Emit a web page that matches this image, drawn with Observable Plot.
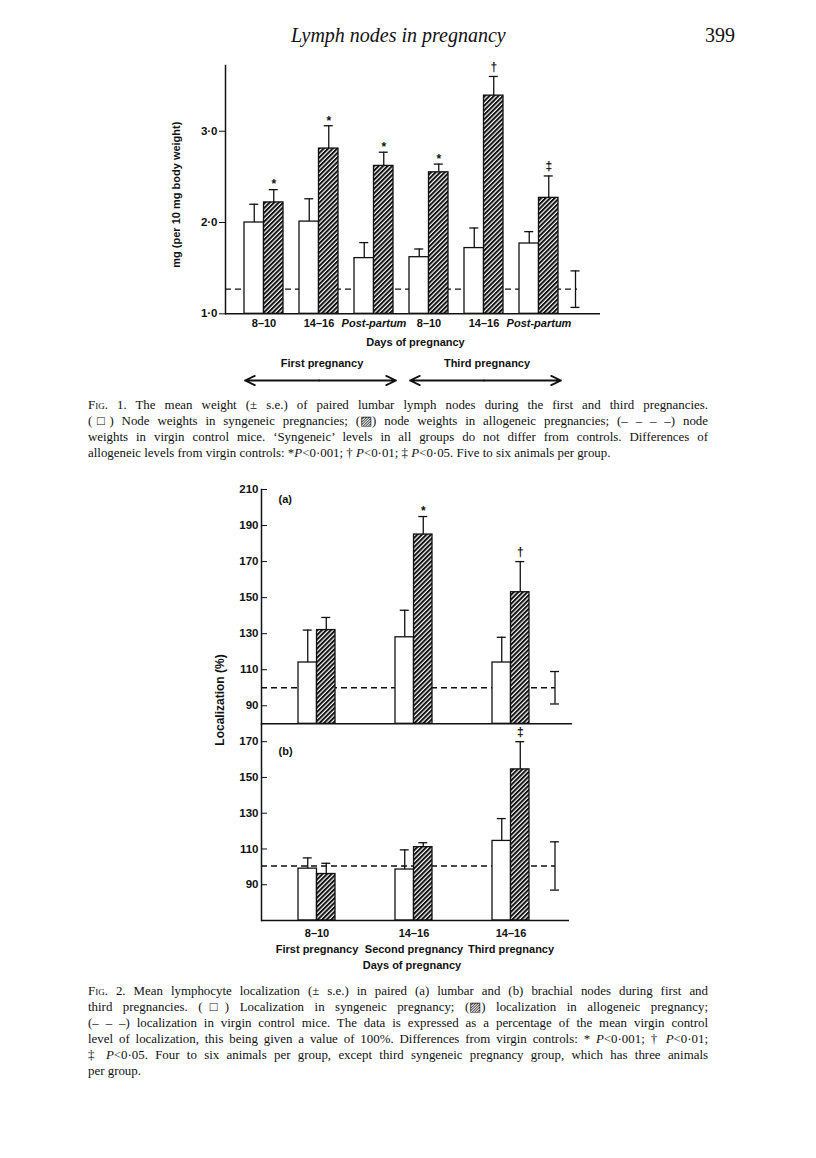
<!DOCTYPE html>
<html><head><meta charset="utf-8">
<script src="https://cdn.jsdelivr.net/npm/d3@7"></script>
<script src="https://cdn.jsdelivr.net/npm/@observablehq/plot@0.6"></script>
<style>
body{margin:0;background:#fff;}
#page{position:relative;width:816px;height:1158px;overflow:hidden;background:#fff;color:#111;font-family:"Liberation Serif","Times New Roman",serif;}
.abs{position:absolute;}
.cap{position:absolute;left:88px;width:620px;font-size:12.9px;line-height:16px;}
.cap .j{text-align:justify;text-align-last:justify;}
.sc{font-variant:small-caps;}
.ylab{position:absolute;font-family:"Liberation Sans",Arial,sans-serif;font-weight:bold;font-size:12px;white-space:nowrap;transform:translate(-50%,-50%) rotate(-90deg);}
svg.plot{overflow:visible;}
</style>
</head><body>
<div id="page">
<svg width="0" height="0" style="position:absolute">
  <defs>
    <pattern id="hatch" patternUnits="userSpaceOnUse" width="3.2" height="3.2" patternTransform="rotate(45)">
      <rect width="3.2" height="3.2" fill="#fff"/>
      <line x1="1" y1="0" x2="1" y2="3.2" stroke="#111" stroke-width="2"/>
    </pattern>
  </defs>
</svg>
<div class="abs" style="left:291px;top:24px;font-size:20px;font-style:italic;">Lymph nodes in pregnancy</div>
<div class="abs" style="left:705px;top:24px;font-size:20px;">399</div>
<div id="fig1" class="abs" style="left:0;top:50px;"></div>
<div id="fig1b" class="abs" style="left:0;top:350px;"></div>
<div class="cap" style="top:397px;">
  <div class="j"><span class="sc">Fig.</span> 1. The mean weight (± s.e.) of paired lumbar lymph nodes during the first and third pregnancies.</div>
  <div class="j">(□) Node weights in syngeneic pregnancies; (▨) node weights in allogeneic pregnancies; (– – – –) node</div>
  <div class="j">weights in virgin control mice. ‘Syngeneic’ levels in all groups do not differ from controls. Differences of</div>
  <div>allogeneic levels from virgin controls: *<i>P</i>&lt;0·001; † <i>P</i>&lt;0·01; ‡ <i>P</i>&lt;0·05. Five to six animals per group.</div>
</div>
<div id="fig2a" class="abs" style="left:0;top:480px;"></div>
<div id="fig2b" class="abs" style="left:0;top:720px;"></div>
<div class="ylab" style="left:220px;top:700px;">Localization (%)</div>
<div class="cap" style="top:983px;">
  <div class="j"><span class="sc">Fig.</span> 2. Mean lymphocyte localization (± s.e.) in paired (a) lumbar and (b) brachial nodes during first and</div>
  <div class="j">third pregnancies. (□) Localization in syngeneic pregnancy; (▨) localization in allogeneic pregnancy;</div>
  <div class="j">(– – –) localization in virgin control mice. The data is expressed as a percentage of the mean virgin control</div>
  <div class="j">level of localization, this being given a value of 100%. Differences from virgin controls: * <i>P</i>&lt;0·001; † <i>P</i>&lt;0·01;</div>
  <div class="j">‡ <i>P</i>&lt;0·05. Four to six animals per group, except third syngeneic pregnancy group, which has three animals</div>
  <div>per group.</div>
</div>
</div>
<script>
// ---------- Fig. 1 data ----------
const groups1 = ["First 8-10", "First 14-16", "First post-partum", "Third 8-10", "Third 14-16", "Third post-partum"];
const dayLabels1 = ["8–10", "14–16", "Post-partum", "8–10", "14–16", "Post-partum"];
const syngeneic1 = [2.00, 2.01, 1.61, 1.62, 1.72, 1.77];
const syngeneicSE1 = [0.20, 0.25, 0.17, 0.09, 0.22, 0.13];
const allogeneic1 = [2.22, 2.81, 2.62, 2.55, 3.39, 2.27];
const allogeneicSE1 = [0.14, 0.25, 0.15, 0.09, 0.21, 0.24];
const signif1 = ["*", "*", "*", "*", "†", "‡"];
const control1 = 1.27;
const controlSE1 = 0.20;
const yTicks1 = [1, 2, 3];
const pregnancyLabels1 = ["First pregnancy", "Third pregnancy"];

// ---------- Fig. 2 data ----------
const groups2 = ["First pregnancy", "Second pregnancy", "Third pregnancy"];
const dayLabels2 = ["8–10", "14–16", "14–16"];
// (a) lumbar nodes
const syngeneicA = [114, 128, 114];
const syngeneicSEA = [18, 15, 14];
const allogeneicA = [132, 185, 153];
const allogeneicSEA = [7, 10, 17];
const signifA = ["", "*", "†"];
const controlA = 100;
const controlSEA = 9;
const yTicksA = [90, 110, 130, 150, 170, 190, 210];
// (b) brachial nodes
const syngeneicB = [99, 98.5, 114.5];
const syngeneicSEB = [6, 11, 12.5];
const allogeneicB = [96, 111, 154.5];
const allogeneicSEB = [6, 2.5, 15.5];
const signifB = ["", "", "‡"];
const controlB = 100.5;
const controlSEB = 13.5;
const yTicksB = [90, 110, 130, 150, 170];

const SANS = "Liberation Sans, Arial, sans-serif";
const symDy = {"*": -5, "†": -9, "‡": -10};

function bandWidth(L) {
  const step = (L.width - L.ml - L.mr) / (L.n - L.pi + 2 * L.po);
  return step * (1 - L.pi);
}

function groupedBars(d, L) {
  const bw = bandWidth(L);
  const q = bw / 4, cap = 4.5;
  const rows = d.groups.map((g, i) => ({g, syn: d.syn[i], synSE: d.synSE[i], allo: d.allo[i], alloSE: d.alloSE[i], sig: d.sig[i]}));
  const last = d.groups[d.groups.length - 1];
  const sw = 1.3;
  return [
    Plot.ruleY([d.control], {strokeDasharray: "6,4", strokeWidth: 1.4, insetRight: L.dashInset}),
    Plot.barY(rows, {x: "g", y1: d.base, y2: "syn", fill: "white", stroke: "#111", strokeWidth: sw, insetLeft: 0, insetRight: bw / 2}),
    Plot.barY(rows, {x: "g", y1: d.base, y2: "allo", fill: "url(#hatch)", stroke: "#111", strokeWidth: sw, insetLeft: bw / 2, insetRight: 0}),
    Plot.ruleX(rows, {x: "g", y1: "syn", y2: r => r.syn + r.synSE, dx: -q, strokeWidth: sw}),
    Plot.tickY(rows, {x: "g", y: r => r.syn + r.synSE, insetLeft: q - cap, insetRight: bw - q - cap, strokeWidth: sw}),
    Plot.ruleX(rows, {x: "g", y1: "allo", y2: r => r.allo + r.alloSE, dx: q, strokeWidth: sw}),
    Plot.tickY(rows, {x: "g", y: r => r.allo + r.alloSE, insetLeft: bw - q - cap, insetRight: q - cap, strokeWidth: sw}),
    ...["*", "†", "‡"].map(s => Plot.text(rows.filter(r => r.sig === s), {x: "g", y: r => r.allo + r.alloSE, text: "sig", dx: q, dy: symDy[s], fontSize: 12, fontWeight: "bold", fontFamily: SANS, fill: "#111"})),
    // virgin control error bar
    Plot.ruleX([d.control], {x: () => last, y1: c => c - d.controlSE, y2: c => c + d.controlSE, dx: L.ctrlDx, strokeWidth: sw}),
    Plot.tickY([d.control - d.controlSE, d.control + d.controlSE], {x: () => last, y: v => v, dx: L.ctrlDx, insetLeft: bw / 2 - cap, insetRight: bw / 2 - cap, strokeWidth: sw}),
    // axes
    Plot.frame({anchor: "left", strokeWidth: 1.5}),
    Plot.ruleY([d.base], {strokeWidth: 1.5, insetRight: -L.baseExt})
  ];
}

function xScale(L, groups, extra = {}) {
  return {type: "band", domain: groups, paddingInner: L.pi, paddingOuter: L.po, ...extra};
}

// ---------- Fig. 1 ----------
const L1 = {width: 816, ml: 225, mr: 239, n: 6, pi: 0.3, po: 0.309, ctrlDx: 36.5, baseExt: 23, dashInset: 0};
const fig1 = Plot.plot({
  width: L1.width, height: 300, marginLeft: L1.ml, marginRight: L1.mr, marginTop: 15, marginBottom: 36.7,
  style: {background: "transparent", overflow: "visible", fontFamily: SANS, color: "#111"},
  x: xScale(L1, groups1),
  y: {domain: [1, 3.72]},
  marks: [
    ...groupedBars({groups: groups1, syn: syngeneic1, synSE: syngeneicSE1, allo: allogeneic1, alloSE: allogeneicSE1, sig: signif1, control: control1, controlSE: controlSE1, base: 1}, L1),
    Plot.axisY(yTicks1, {tickSize: 6, tickPadding: 2, tickFormat: v => v.toFixed(1).replace(".", "·"), fontSize: 11.5, fontWeight: "bold", label: null}),
    Plot.axisX(groups1.filter((g, i) => !dayLabels1[i].startsWith("Post")), {tickSize: 0, tickPadding: 5, tickFormat: g => dayLabels1[groups1.indexOf(g)], fontSize: 11, fontWeight: "bold", label: null}),
    Plot.axisX(groups1.filter((g, i) => dayLabels1[i].startsWith("Post")), {tickSize: 0, tickPadding: 5, tickFormat: g => dayLabels1[groups1.indexOf(g)], fontSize: 11, fontWeight: "bold", fontStyle: "italic", label: null}),
    Plot.text(["Days of pregnancy"], {frameAnchor: "bottom", dy: 32, dx: 14, fontSize: 11, fontWeight: "bold"}),
    Plot.text(["mg (per 10 mg body weight)"], {frameAnchor: "left", textAnchor: "middle", rotate: -90, dx: -49, dy: 5, fontSize: 11, fontWeight: "bold"})
  ]
});
document.getElementById("fig1").appendChild(fig1);

const fig1b = Plot.plot({
  width: L1.width, height: 40, marginLeft: L1.ml, marginRight: L1.mr, marginTop: 13, marginBottom: 10,
  style: {background: "transparent", overflow: "visible", fontFamily: SANS, color: "#111"},
  x: xScale(L1, groups1, {axis: null}),
  y: {domain: [0, 1], axis: null},
  marks: [
    Plot.text(pregnancyLabels1, {x: (d, i) => groups1[i * 3 + 1], frameAnchor: "top", lineAnchor: "middle", dx: 3, fontSize: 11, fontWeight: "bold"}),
    Plot.arrow([0, 3], {x1: i => groups1[i + 1], x2: i => groups1[i], y1: 0, y2: 0, insetEnd: -19, headLength: 9, headAngle: 50, strokeWidth: 1.8, stroke: "#111"}),
    Plot.arrow([0, 3], {x1: i => groups1[i + 1], x2: i => groups1[i + 2], y1: 0, y2: 0, insetEnd: -22, headLength: 9, headAngle: 50, strokeWidth: 1.8, stroke: "#111"})
  ]
});
document.getElementById("fig1b").appendChild(fig1b);

// ---------- Fig. 2 ----------
const L2 = {width: 816, ml: 261, mr: 250, n: 3, pi: 0.62, po: 0.374, ctrlDx: 44, baseExt: 6, dashInset: 11};
const yFmt2 = v => String(v);
const fig2a = Plot.plot({
  width: L2.width, height: 246, marginLeft: L2.ml, marginRight: L2.mr, marginTop: 9, marginBottom: 2.7,
  style: {background: "transparent", overflow: "visible", fontFamily: SANS, color: "#111"},
  x: xScale(L2, groups2, {axis: null}),
  y: {domain: [80, 210]},
  marks: [
    ...groupedBars({groups: groups2, syn: syngeneicA, synSE: syngeneicSEA, allo: allogeneicA, alloSE: allogeneicSEA, sig: signifA, control: controlA, controlSE: controlSEA, base: 80}, L2),
    Plot.axisY(yTicksA, {tickSize: -6, tickPadding: 9, tickFormat: yFmt2, fontSize: 11.5, fontWeight: "bold", label: null}),
    Plot.text(["(a)"], {frameAnchor: "top-left", dx: 17, dy: 6, textAnchor: "start", fontSize: 11, fontWeight: "bold"})
  ]
});
document.getElementById("fig2a").appendChild(fig2a);

const fig2b = Plot.plot({
  width: L2.width, height: 260, marginLeft: L2.ml, marginRight: L2.mr, marginTop: 3.3, marginBottom: 60,
  style: {background: "transparent", overflow: "visible", fontFamily: SANS, color: "#111"},
  x: xScale(L2, groups2),
  y: {domain: [70, 180]},
  marks: [
    ...groupedBars({groups: groups2, syn: syngeneicB, synSE: syngeneicSEB, allo: allogeneicB, alloSE: allogeneicSEB, sig: signifB, control: controlB, controlSE: controlSEB, base: 70}, {...L2, baseExt: 3}),
    Plot.axisY(yTicksB, {tickSize: -6, tickPadding: 9, tickFormat: yFmt2, fontSize: 11.5, fontWeight: "bold", label: null}),
    Plot.axisX(groups2, {tickSize: 0, tickPadding: 5, lineHeight: 1.45, tickFormat: g => dayLabels2[groups2.indexOf(g)] + "\n" + g, fontSize: 11, fontWeight: "bold", label: null}),
    Plot.text(["(b)"], {frameAnchor: "top-left", dx: 17, dy: 23, textAnchor: "start", fontSize: 11, fontWeight: "bold"}),
    Plot.text(["Days of pregnancy"], {frameAnchor: "bottom", dy: 48, dx: -2, fontSize: 11, fontWeight: "bold"})
  ]
});
document.getElementById("fig2b").appendChild(fig2b);
</script>
</body></html>
